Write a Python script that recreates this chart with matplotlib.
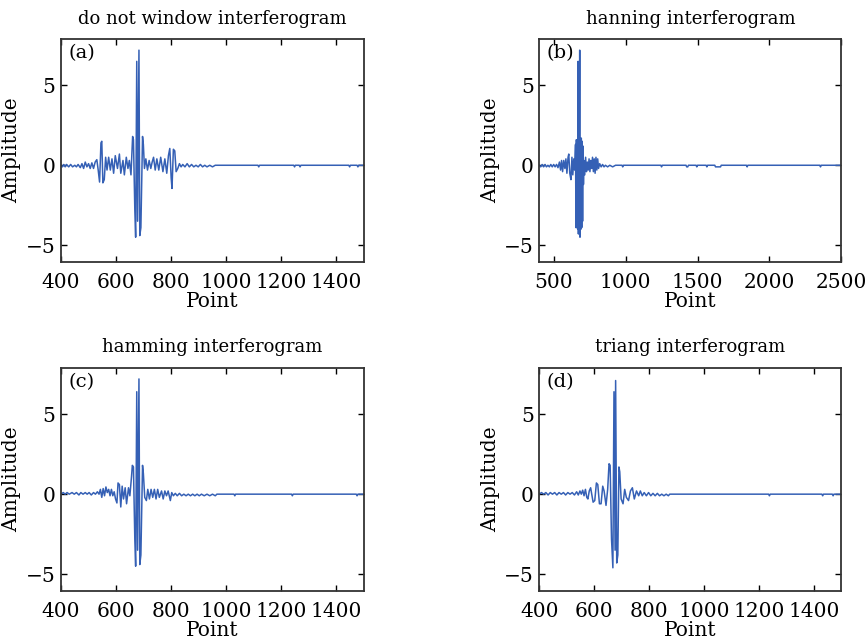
import matplotlib
matplotlib.use("Agg")
import matplotlib.pyplot as plt
import numpy as np

# (a) no window: turning points
pts_a = [400, 405, 410, 415, 420, 428, 435, 442, 450, 456, 462, 470, 476, 482, 488,
         494, 500, 506, 512, 518, 524, 530, 535, 540, 545, 548, 552, 557, 562, 567,
         573, 579, 585, 591, 597, 605, 612, 617, 625, 630, 637, 643, 648, 654, 660,
         663, 668, 671, 675, 678, 683, 686, 690, 696, 699, 703, 708, 714, 720, 726,
         731, 736, 742, 748, 755, 762, 770, 777, 784, 790, 795, 800, 803, 808, 813,
         818, 824, 830, 836, 842, 850, 858, 866, 874, 882, 890, 898, 906, 914, 922,
         930, 940, 950, 960, 970, 1115, 1118, 1121, 1245, 1248, 1251, 1265, 1268, 1271,
         1445, 1448, 1451, 1475, 1478, 1481, 1500]
amp_a = [0, -0.1, 0.05, -0.1, 0.05, -0.1, 0.05, -0.1, 0.0, -0.1, 0.05, -0.15, 0.1, -0.2, 0.2,
         -0.1, 0.1, -0.2, 0.15, -0.2, 0.2, 0.35, -0.3, -1.05, 1.4, 1.5, -1.1, -0.9, 0.5, -0.3,
         0.5, -0.3, 0.4, -0.5, 0.6, -0.2, 0.7, -0.5, 0.3, -0.6, 0.5, -0.2, 0.3, -0.6, 1.8,
         1.6, -2.8, -4.5, 6.5, -3.5, 7.2, -4.4, -3.9, 1.8, 1.3, -0.2, 0.4, -0.3, 0.3, -0.2,
         0.2, 0.5, -0.3, 0.4, -0.3, 0.5, -0.4, 0.4, -0.5, 0.6, 1.05, -0.8, -1.45, 1.0, 0.9,
         -0.4, -0.2, 0.1, -0.1, 0.05, -0.1, 0.1, -0.1, 0.05, -0.1, 0.0, -0.1, 0.05, -0.1, 0.0,
         -0.1, 0.0, -0.1, 0.0, 0, 0, -0.1, 0, 0, -0.1, 0, 0, -0.1, 0,
         0, -0.1, 0, 0, -0.1, 0, 0]

# (b) hanning
pts_b = [400, 410, 420, 430, 440, 450, 460, 470, 480, 490, 500, 510, 520, 530, 540,
         548, 555, 562, 570, 578, 585, 592, 600, 605, 612, 620, 627, 633, 640, 646,
         652, 655, 658, 661, 664, 667, 670, 672, 675, 678, 681, 683, 686, 689, 692,
         695, 698, 701, 704, 707, 710, 716, 722, 728, 734, 740, 746, 752, 758, 764,
         770, 776, 782, 788, 794, 800, 806, 812, 820, 830, 840, 850, 860, 875, 890,
         910, 930, 975, 980, 985, 1245, 1250, 1255, 1420, 1425, 1432, 1437, 1490, 1495,
         1500, 1560, 1565, 1570, 1620, 1625, 1660, 1665, 1840, 1845, 1850, 2350, 2355,
         2360, 2500]
amp_b = [0, -0.1, 0.05, -0.1, 0.05, -0.1, 0, -0.1, 0.05, -0.1, 0.05, -0.1, 0.05, -0.15, 0.2,
         -0.3, 0.3, -0.4, 0.3, -0.2, 0.4, -0.5, 0.5, 0.7, -0.5, -0.9, 0.5, -0.6, 0.4, -0.3,
         1.3, -3.9, 1.6, -3.9, 1.6, -4.0, 6.5, -4.3, 1.7, -3.9, 7.2, -4.5, 1.7, -4.0, 1.7,
         -3.9, 1.5, -3.5, 1.2, -1.2, 0.3, -0.6, 0.5, -0.4, 0.2, -0.3, 0.4, -0.4, 0.3, -0.2,
         0.5, -0.4, 0.4, -0.5, 0.5, -0.3, 0.4, -0.2, 0.1, -0.1, 0.05, -0.1, 0.0, -0.1, 0,
         -0.1, 0, 0, -0.1, 0, 0, -0.1, 0, 0, -0.1, -0.1, 0, 0, -0.1,
         0, 0, -0.1, 0, 0, -0.1, -0.1, 0, 0, -0.1, 0, 0, -0.1,
         0, 0]

# (c) hamming
pts_c = [400, 408, 415, 422, 430, 440, 448, 456, 465, 472, 480, 488, 495, 502, 510,
         518, 525, 532, 538, 543, 548, 553, 558, 563, 568, 573, 578, 583, 588, 593,
         598, 603, 607, 612, 617, 622, 627, 633, 638, 645, 650, 656, 659, 663, 668,
         671, 675, 678, 683, 686, 690, 696, 699, 704, 710, 715, 721, 727, 733, 739,
         745, 751, 757, 765, 771, 777, 783, 789, 797, 802, 808, 815, 822, 830, 838,
         846, 854, 862, 870, 878, 886, 894, 902, 910, 920, 930, 940, 950, 960, 966,
         1028, 1031, 1034, 1237, 1240, 1243, 1472, 1475, 1478, 1500]
amp_c = [0, 0.1, 0, 0.1, 0, 0.1, 0, 0.1, -0.05, 0.1, 0, 0.1, 0, 0.1, -0.05,
         0.1, 0, 0.15, 0.0, 0.3, -0.2, 0.35, -0.1, 0.45, 0.1, 0.3, -0.1, 0.3, -0.1, 0.15,
         -0.3, -0.55, 0.7, 0.6, -0.8, 0.5, -0.3, 0.4, -0.6, 0.4, -0.1, 1.1, 1.8, 1.7, -2.85,
         -4.5, 6.4, -3.5, 7.2, -4.4, -3.8, 1.8, 1.3, -0.2, -0.4, 0.3, -0.3, 0.3, -0.2, 0.3,
         -0.3, 0.3, -0.2, 0.2, -0.3, 0.2, -0.1, 0.2, -0.4, 0.1, -0.1, 0.05, -0.1, 0.05, -0.1,
         0, -0.1, 0, -0.1, 0, -0.1, 0, -0.1, 0, -0.1, 0, -0.1, 0, -0.1, 0,
         0, -0.1, 0, 0, -0.1, 0, 0, -0.1, 0, 0]

# (d) triang
pts_d = [400, 408, 416, 424, 432, 440, 448, 456, 464, 472, 480, 488, 496, 504, 512,
         520, 528, 536, 542, 548, 553, 558, 563, 568, 573, 577, 582, 587, 592, 596,
         602, 608, 613, 619, 625, 631, 636, 643, 649, 654, 658, 663, 668, 672, 676,
         678, 682, 686, 690, 693, 698, 705, 711, 717, 725, 732, 739, 746, 754, 762,
         768, 775, 782, 790, 798, 806, 814, 822, 830, 838, 846, 854, 862, 870, 875,
         1235, 1238, 1241, 1429, 1432, 1435, 1467, 1470, 1473, 1500]
amp_d = [0, 0.1, 0, 0.1, -0.05, 0.1, 0, 0.1, -0.05, 0.1, 0, 0.1, -0.05, 0.1, 0,
         0.1, -0.05, 0.15, -0.05, 0.2, 0.0, 0.25, -0.1, 0.3, -0.2, -0.3, 0.2, 0.4, -0.1, -0.5,
         -0.4, 0.7, 0.6, -0.6, -0.6, 0.5, 0.2, -0.7, 0.3, 1.9, 1.8, -2.8, -4.6, 6.4, -3.5,
         7.1, -4.3, -3.8, 1.7, 1.4, -0.3, -0.6, 0.3, -0.2, -0.4, 0.2, 0.4, -0.3, 0.2, -0.1,
         0.2, -0.1, 0.1, -0.1, 0.1, -0.1, 0.05, -0.1, 0.05, -0.1, 0, -0.1, 0, -0.1, 0,
         0, -0.1, 0, 0, -0.1, 0, 0, -0.1, 0, 0]

titles = ["do not window interferogram", "hanning interferogram",
          "hamming interferogram", "triang interferogram"]
tags = ["(a)", "(b)", "(c)", "(d)"]
xlims = [(400, 1500), (400, 2500), (400, 1500), (400, 1500)]
xtick_sets = [[400, 600, 800, 1000, 1200, 1400],
              [500, 1000, 1500, 2000, 2500],
              [400, 600, 800, 1000, 1200, 1400],
              [400, 600, 800, 1000, 1200, 1400]]
series = [(pts_a, amp_a), (pts_b, amp_b), (pts_c, amp_c), (pts_d, amp_d)]

plt.rcParams['font.family'] = ['DejaVu Serif']
plt.rcParams['font.size'] = 14

fig = plt.figure(figsize=(8.68, 6.44), dpi=100)

boxes = [[0.0703, 0.5932, 0.349, 0.3463],
         [0.6213, 0.5932, 0.348, 0.3463],
         [0.0703, 0.0823, 0.349, 0.3467],
         [0.6213, 0.0823, 0.348, 0.3467]]

for i in range(4):
    ax = fig.add_axes(boxes[i])
    x, y = series[i]
    ax.plot(x, y, color='#3560b5', lw=1.1)
    ax.set_xlim(*xlims[i])
    ax.set_ylim(-6.05, 7.9)
    ax.set_xticks(xtick_sets[i])
    ax.set_yticks([-5, 0, 5])
    ax.tick_params(direction='in', top=True, right=True, length=4, width=1,
                   labelsize=14.5)
    ax.tick_params(axis='x', pad=8)
    ax.tick_params(axis='y', pad=4)
    for s in ax.spines.values():
        s.set_linewidth(1.3)
        s.set_color('#333333')
    ax.set_title(titles[i], fontsize=13, pad=11)
    ax.set_xlabel("Point", fontsize=14.5, labelpad=0)
    ax.set_ylabel("Amplitude", fontsize=14.5, labelpad=3)
    ax.text(0.025, 0.975, tags[i], transform=ax.transAxes, va='top', ha='left',
            fontsize=14)

fig.savefig("out.png", dpi=100)
